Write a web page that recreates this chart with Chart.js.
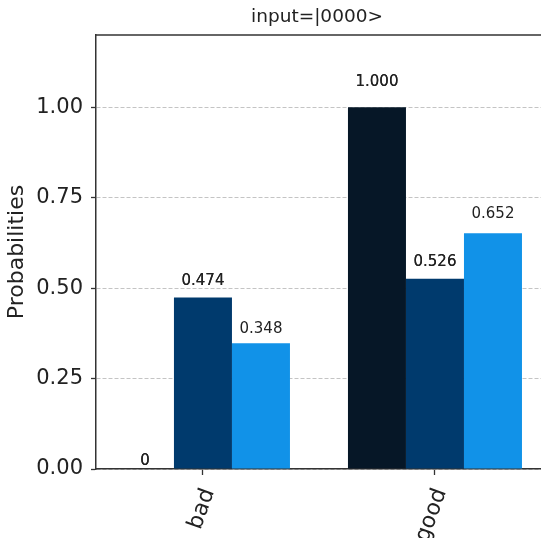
<!DOCTYPE html>
<html><head><meta charset="utf-8">
<script src="https://cdn.jsdelivr.net/npm/chart.js@4/dist/chart.umd.min.js"></script>
<style>html,body{margin:0;padding:0;background:#fff;overflow:hidden}#wrap{width:541px;height:538px;position:relative}</style>
</head><body><div id="wrap"><canvas id="c"></canvas></div>
<script>
const categories = ['bad', 'good'];
const seriesA = [0, 1.0];
const seriesB = [0.474, 0.526];
const seriesC = [0.348, 0.652];
const yTickValues = [0, 0.25, 0.5, 0.75, 1.0];
const titleText = 'input=|0000>';
const yLabel = 'Probabilities';

const FONT = "'DejaVu Sans', sans-serif";
const TXT = '#222';
const SPINE = '#333';

const toPoints = arr => arr.map((v, i) => ({x: i, y: v}));

const frame = {
  id: 'frame',
  afterDraw(chart) {
    const {ctx, chartArea} = chart;
    ctx.save();
    ctx.strokeStyle = SPINE;
    ctx.lineWidth = 1.5;
    ctx.beginPath();
    ctx.moveTo(chartArea.left, chartArea.top);
    ctx.lineTo(chartArea.right + 2, chartArea.top);
    ctx.stroke();
    ctx.font = "18.5px " + FONT;
    ctx.fillStyle = TXT;
    ctx.textAlign = 'center';
    ctx.textBaseline = 'middle';
    ctx.fillText(titleText, (chartArea.left + 538) / 2, 17);
    ctx.restore();
  }
};

const valueLabels = {
  id: 'valueLabels',
  afterDatasetsDraw(chart) {
    const {ctx} = chart;
    const yScale = chart.scales.y;
    ctx.save();
    ctx.font = "15px " + FONT;
    ctx.textAlign = 'center';
    ctx.textBaseline = 'bottom';
    ctx.fillStyle = TXT;
    chart.data.datasets.forEach((ds, di) => {
      const meta = chart.getDatasetMeta(di);
      meta.data.forEach((el, i) => {
        const v = ds.data[i].y;
        const txt = v === 0 ? '0' : v.toFixed(3);
        const y = yScale.getPixelForValue(1.05 * v);
        ctx.fillText(txt, el.x, y);
        if (di < 2) ctx.fillText(txt, el.x, y);
      });
    });
    ctx.restore();
  }
};

new Chart(document.getElementById('c'), {
  type: 'bar',
  data: {
    datasets: [
      {label: 'A', data: toPoints(seriesA), backgroundColor: '#061727', borderWidth: 0},
      {label: 'B', data: toPoints(seriesB), backgroundColor: '#003a6d', borderWidth: 0},
      {label: 'C', data: toPoints(seriesC), backgroundColor: '#1192e8', borderWidth: 0}
    ]
  },
  plugins: [frame, valueLabels],
  options: {
    responsive: true,
    maintainAspectRatio: false,
    animation: false,
    layout: {padding: {left: 0, right: 0, top: 35, bottom: 0}},
    datasets: {bar: {categoryPercentage: 0.75, barPercentage: 1.0}},
    plugins: {
      legend: {display: false},
      tooltip: {enabled: false},
      title: {display: false}
    },
    scales: {
      x: {
        type: 'linear', min: -0.461, max: 1.457, offset: false,
        afterBuildTicks: s => { s.ticks = categories.map((c, i) => ({value: i})); },
        afterFit: s => { s.height = 69; },
        ticks: {
          callback: v => categories[v] ?? '',
          minRotation: 70, maxRotation: 70, autoSkip: false,
          font: {family: FONT, size: 22}, color: TXT, padding: 10, labelOffset: 6
        },
        grid: {offset: false, drawOnChartArea: false, drawTicks: true, tickLength: 6, tickColor: SPINE, tickWidth: 1.3},
        border: {display: true, color: SPINE, width: 1.5}
      },
      y: {
        type: 'linear', min: 0, max: 1.2,
        afterBuildTicks: s => { s.ticks = yTickValues.map(v => ({value: v})); },
        afterFit: s => { s.width = 96; },
        ticks: {
          callback: v => Number(v).toFixed(2),
          font: {family: FONT, size: 21}, color: TXT, padding: 8
        },
        grid: {
          color: '#c4c4c4', lineWidth: 1,
          drawTicks: true, tickLength: 5, tickColor: SPINE, tickWidth: 1.3, tickBorderDash: []
        },
        border: {display: true, color: SPINE, width: 1.5, dash: [4, 2]},
        title: {
          display: true, text: yLabel, color: TXT,
          font: {family: FONT, size: 22}, padding: {top: 4, bottom: 0}
        }
      }
    }
  }
});
</script></body></html>
